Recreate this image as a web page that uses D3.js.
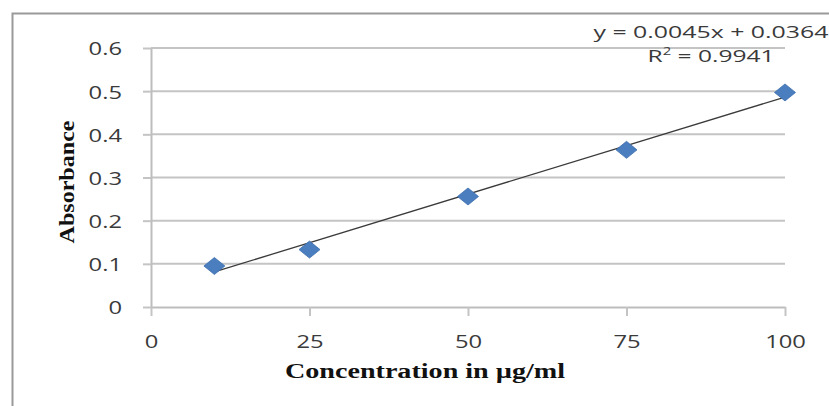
<!DOCTYPE html>
<html>
<head>
<meta charset="utf-8">
<script src="https://cdn.jsdelivr.net/npm/d3@7"></script>
<style>
  html, body { margin: 0; padding: 0; background: #fff; }
  svg { display: block; }
</style>
</head>
<body>
<svg id="chart" width="829" height="406"></svg>
<script>
// Calibration data: concentration (µg/ml) vs absorbance
const concentration = [10, 25, 50, 75, 100];
const absorbance = [0.095, 0.133, 0.256, 0.364, 0.497];
const xTicks = [0, 25, 50, 75, 100];
const yTicks = [0, 0.1, 0.2, 0.3, 0.4, 0.5, 0.6];
const slope = 0.0045;
const intercept = 0.0364;
const rSquared = 0.9941;

const svg = d3.select("#chart");
const W = 829, H = 406;

const x = d3.scaleLinear().domain([0, 100]).range([151, 785]);
const y = d3.scaleLinear().domain([0, 0.6]).range([307, 48]);

// Stretch text horizontally (wide, Calibri-like look)
function widen(sel, factor) {
  sel.each(function () {
    const w = this.getComputedTextLength();
    this.setAttribute("textLength", w * factor);
    this.setAttribute("lengthAdjust", "spacingAndGlyphs");
  });
}
function fitTo(sel, width) {
  sel.attr("textLength", width).attr("lengthAdjust", "spacingAndGlyphs");
}

// Chart area border
svg.append("rect")
  .attr("x", 12.5).attr("y", 13.5)
  .attr("width", W + 50).attr("height", H + 50)
  .attr("fill", "none")
  .attr("stroke", "#9a9a9a")
  .attr("stroke-width", 2);

// Horizontal gridlines
svg.append("g")
  .selectAll("line")
  .data(yTicks.filter(d => d > 0))
  .join("line")
  .attr("x1", x(0)).attr("x2", x(100))
  .attr("y1", d => y(d)).attr("y2", d => y(d))
  .attr("stroke", "#c4c4c4")
  .attr("stroke-width", 2);

const tickFont = "'Open Sans', 'Liberation Sans', sans-serif";

// Y axis
const yAxis = svg.append("g")
  .attr("transform", `translate(${x(0)},0)`)
  .call(d3.axisLeft(y).tickValues(yTicks).tickSize(8).tickSizeOuter(0)
    .tickFormat(d => d === 0 ? "0" : d3.format(".1f")(d)));
yAxis.select(".domain").attr("stroke", "#bdbdbd").attr("stroke-width", 2);
yAxis.selectAll(".tick line").attr("stroke", "#c4c4c4").attr("stroke-width", 2);
yAxis.selectAll(".tick text")
  .attr("x", -29)
  .attr("dy", "0.36em")
  .attr("fill", "#3a3a3a")
  .style("font-family", tickFont)
  .style("font-size", "19px")
  .call(widen, 1.25);

// X axis
const xAxis = svg.append("g")
  .attr("transform", `translate(0,${y(0)})`)
  .call(d3.axisBottom(x).tickValues(xTicks).tickSize(9).tickSizeOuter(0)
    .tickFormat(d3.format("d")));
xAxis.select(".domain").attr("stroke", "#bdbdbd").attr("stroke-width", 2);
xAxis.selectAll(".tick line").attr("stroke", "#c4c4c4").attr("stroke-width", 2);
xAxis.selectAll(".tick text")
  .attr("y", 34)
  .attr("dy", "0.36em")
  .attr("fill", "#3a3a3a")
  .style("font-family", tickFont)
  .style("font-size", "19px")
  .call(widen, 1.25);

// Linear trendline from the fitted equation
const xFit = [d3.min(concentration), d3.max(concentration)];
svg.append("line")
  .attr("x1", x(xFit[0])).attr("y1", y(slope * xFit[0] + intercept))
  .attr("x2", x(xFit[1])).attr("y2", y(slope * xFit[1] + intercept))
  .attr("stroke", "#3a3a3a")
  .attr("stroke-width", 1.3);

// Diamond markers
const hw = 10.5, hh = 8.5;
svg.append("g")
  .selectAll("path")
  .data(concentration.map((c, i) => [c, absorbance[i]]))
  .join("path")
  .attr("d", d => {
    const cx = x(d[0]), cy = y(d[1]);
    return `M${cx},${cy - hh}L${cx + hw},${cy}L${cx},${cy + hh}L${cx - hw},${cy}Z`;
  })
  .attr("fill", "#4a7ebf")
  .attr("stroke", "#3d6fae")
  .attr("stroke-width", 0.8);

// Trendline equation and R²
svg.append("text")
  .attr("x", 711).attr("y", 38)
  .attr("text-anchor", "middle")
  .attr("fill", "#3a3a3a")
  .style("font-family", tickFont)
  .style("font-size", "16.5px")
  .text(`y = ${slope}x + ${intercept}`)
  .call(fitTo, 235);

const r2 = svg.append("text")
  .attr("x", 711).attr("y", 62)
  .attr("text-anchor", "middle")
  .attr("fill", "#3a3a3a")
  .style("font-family", tickFont)
  .style("font-size", "16.5px");
r2.append("tspan").text("R");
r2.append("tspan").attr("baseline-shift", "super").style("font-size", "10px").text("2");
r2.append("tspan").text(` = ${rSquared}`);
r2.call(fitTo, 127);

// Axis titles
svg.append("text")
  .attr("x", 425).attr("y", 378)
  .attr("text-anchor", "middle")
  .attr("fill", "#111")
  .style("font-family", "'Liberation Serif', 'Times New Roman', serif")
  .style("font-weight", "bold")
  .style("font-size", "20px")
  .text("Concentration in µg/ml")
  .call(fitTo, 280);

svg.append("text")
  .attr("transform", "translate(74,182) rotate(-90)")
  .attr("text-anchor", "middle")
  .attr("fill", "#111")
  .style("font-family", "'Liberation Serif', 'Times New Roman', serif")
  .style("font-weight", "bold")
  .style("font-size", "22px")
  .text("Absorbance")
  .call(fitTo, 123);
</script>
</body>
</html>
